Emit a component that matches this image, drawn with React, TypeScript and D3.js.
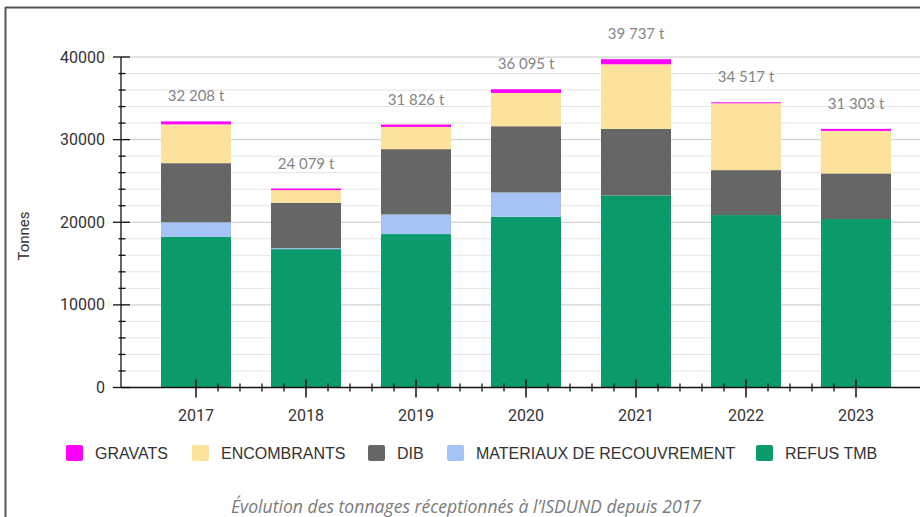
import React from "react";
import * as d3 from "d3";

const years = ["2017", "2018", "2019", "2020", "2021", "2022", "2023"];
const refusTmb = [18250, 16750, 18570, 20660, 23250, 20870, 20390];
const materiaux = [1750, 120, 2380, 2950, 0, 0, 0];
const dib = [7150, 5490, 7900, 8010, 8050, 5440, 5520];
const encombrants = [4700, 1530, 2690, 4030, 7820, 8090, 5150];
const gravats = [358, 189, 286, 445, 617, 117, 243];
const totalLabels = ["32 208 t", "24 079 t", "31 826 t", "36 095 t", "39 737 t", "34 517 t", "31 303 t"];
const yTicks = [0, 10000, 20000, 30000, 40000];

const seriesKeys = ["REFUS TMB", "MATERIAUX DE RECOUVREMENT", "DIB", "ENCOMBRANTS", "GRAVATS"];
const colors: Record<string, string> = {
  "REFUS TMB": "#0a9a6b",
  "MATERIAUX DE RECOUVREMENT": "#a4c2f4",
  DIB: "#666666",
  ENCOMBRANTS: "#fde29b",
  GRAVATS: "#ff00ff",
};
const legendOrder = ["GRAVATS", "ENCOMBRANTS", "DIB", "MATERIAUX DE RECOUVREMENT", "REFUS TMB"];
const legendX = [66, 192, 368, 447, 756];

export default function App() {
  const W = 920, H = 517;
  const axisX = 121;
  const y = d3.scaleLinear().domain([0, 40000]).range([387.5, 57]);
  const x = d3.scaleBand<string>().domain(years).range([141, 911]).paddingInner(0.3636).paddingOuter(0.1818);

  const rows = years.map((yr, i) => ({
    year: yr,
    "REFUS TMB": refusTmb[i],
    "MATERIAUX DE RECOUVREMENT": materiaux[i],
    DIB: dib[i],
    ENCOMBRANTS: encombrants[i],
    GRAVATS: gravats[i],
  }));
  const stacked = d3.stack<any>().keys(seriesKeys)(rows);
  const totals = years.map((_, i) => refusTmb[i] + materiaux[i] + dib[i] + encombrants[i] + gravats[i]);

  const gridVals = d3.range(0, 40001, 2000);
  const center = (yr: string) => (x(yr) as number) + x.bandwidth() / 2;
  const minorX: number[] = [];
  for (let i = 0; i < years.length - 1; i++) {
    const a = center(years[i]), b = center(years[i + 1]);
    for (let k = 1; k < 5; k++) minorX.push(a + ((b - a) * k) / 5);
  }
  const y0 = y(0);

  return (
    <svg width={W} height={H} style={{ position: "absolute", left: 0, top: 0, background: "#fff" }}>
      <rect x={0} y={0} width={W} height={H} fill="#fff" />
      {/* frame */}
      <line x1={5.5} x2={W} y1={7.5} y2={7.5} stroke="#555" strokeWidth={2} />
      <line x1={5.5} x2={5.5} y1={7} y2={H} stroke="#555" strokeWidth={2} />

      {/* grid */}
      {gridVals.map((v) => (
        <line key={"g" + v} x1={axisX} x2={W} y1={y(v)} y2={y(v)}
          stroke={v % 10000 === 0 ? "#c8c8c8" : "#e4e4e4"} strokeWidth={1} />
      ))}

      {/* bars */}
      {stacked.map((s) => (
        <g key={s.key} fill={colors[s.key]}>
          {s.map((d, i) => (
            <rect key={i} x={x(years[i])} width={x.bandwidth()} y={y(d[1])} height={Math.max(0, y(d[0]) - y(d[1]))} />
          ))}
        </g>
      ))}

      {/* total labels */}
      {years.map((yr, i) => (
        <text key={"t" + yr} x={center(yr)} y={y(totals[i]) - 20} textAnchor="middle"
          fontFamily="Lato" fontSize={15} fill="#858585">{totalLabels[i]}</text>
      ))}

      {/* y axis */}
      <line x1={axisX} x2={axisX} y1={y(40000)} y2={y0} stroke="#111" strokeWidth={1.3} />
      {gridVals.map((v) => v % 10000 === 0 ? (
        <line key={"yt" + v} x1={113} x2={130} y1={y(v)} y2={y(v)} stroke="#111" strokeWidth={1.3} />
      ) : (
        <line key={"yt" + v} x1={118.5} x2={125.5} y1={y(v)} y2={y(v)} stroke="#111" strokeWidth={1.3} />
      ))}
      {yTicks.map((v) => (
        <text key={"yl" + v} x={105} y={y(v) + 5.5} textAnchor="end" fontFamily="Roboto" fontSize={16} fill="#333">{v}</text>
      ))}
      <text transform="translate(29,236) rotate(-90)" textAnchor="middle" fontFamily="Roboto" fontSize={15} fill="#333">Tonnes</text>

      {/* x axis */}
      <line x1={axisX} x2={W} y1={y0} y2={y0} stroke="#111" strokeWidth={1.3} />
      {years.map((yr) => (
        <line key={"xt" + yr} x1={center(yr)} x2={center(yr)} y1={y0 - 8} y2={y0 + 10} stroke="#111" strokeWidth={1.5} />
      ))}
      {minorX.map((mx, i) => (
        <line key={"mx" + i} x1={mx} x2={mx} y1={y0 - 4} y2={y0 + 4} stroke="#111" strokeWidth={1.3} />
      ))}
      {years.map((yr) => (
        <text key={"xl" + yr} x={center(yr)} y={421} textAnchor="middle" fontFamily="Roboto" fontSize={16} fill="#333">{yr}</text>
      ))}

      {/* legend */}
      {legendOrder.map((k, i) => (
        <g key={"lg" + k}>
          <rect x={legendX[i]} y={445} width={17} height={16} rx={2} fill={colors[k]} />
          <text x={legendX[i] + 29} y={459} fontFamily="Liberation Sans" fontSize={16} fill="#333">{k}</text>
        </g>
      ))}

      {/* caption */}
      <text x={466} y={513} textAnchor="middle" fontFamily="Open Sans" fontStyle="italic" fontSize={17.6} fill="#7a7a7a">
        Évolution des tonnages réceptionnés à l’ISDUND depuis 2017
      </text>
    </svg>
  );
}
